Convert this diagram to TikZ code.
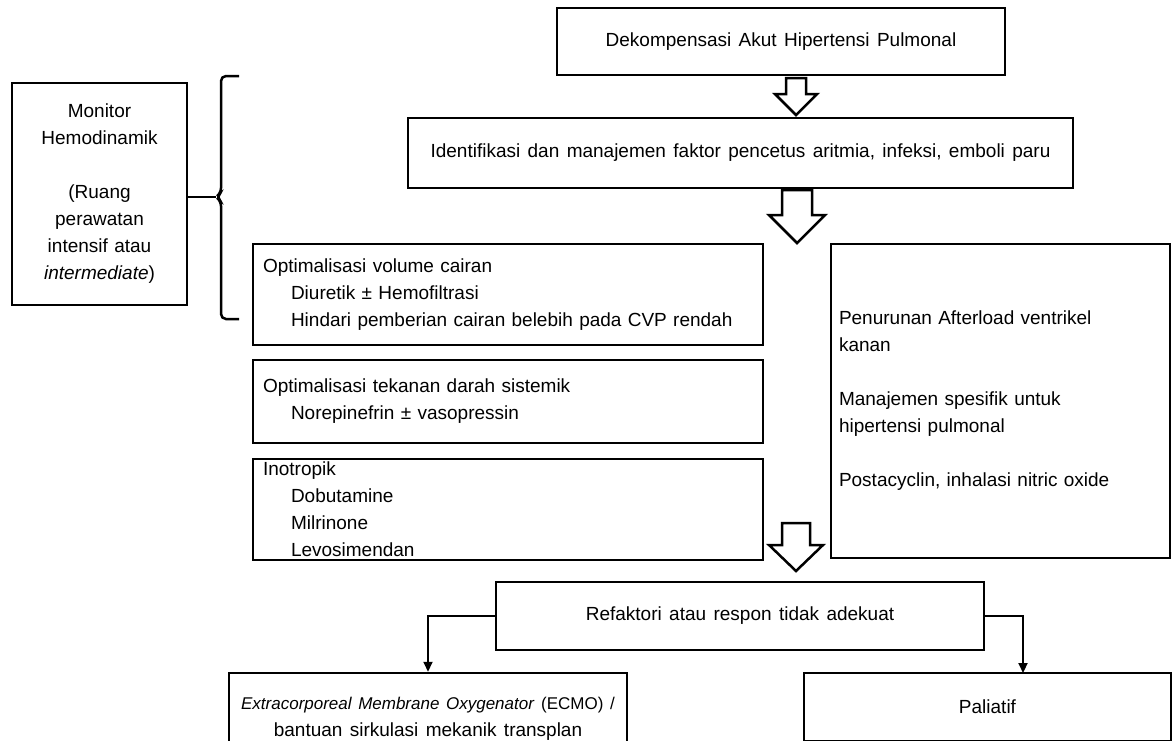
\documentclass[tikz,border=0pt]{standalone}
\usepackage{fontspec}
\setmainfont{Liberation Sans}[WordSpace=1.4]
\usetikzlibrary{arrows.meta}

\begin{document}
\begin{tikzpicture}[x=1pt,y=-1pt,
  kotak/.style={draw, line width=2.5pt, inner sep=0pt, font=\fontsize{19}{27}\selectfont},
  isi/.style={inner sep=0pt, font=\fontsize{19}{27}\selectfont},
  panah/.style={draw, line width=2.5pt, fill=white, line join=miter},
  sambung/.style={line width=2pt, -{Triangle[length=10pt,width=9pt]}},
  kurung/.style={line width=2.5pt, rounded corners=5pt}]
\useasboundingbox (0,0) rectangle (1172,740);

% alur utama
\node[kotak, minimum width=448, minimum height=67] (dekomp) at (781,41.5) {Dekompensasi Akut Hipertensi Pulmonal};
\node[kotak, minimum width=665, minimum height=70] (faktor) at (740.5,153) {Identifikasi dan manajemen faktor pencetus aritmia, infeksi, emboli paru};
\draw[panah] (786,78) -- (806,78) -- (806,94) -- (817,94) -- (796,115) -- (775,94) -- (786,94) -- cycle;
\draw[panah] (782,190) -- (812,190) -- (812,215) -- (825,215) -- (797,243) -- (769,215) -- (782,215) -- cycle;

% kotak kiri
\node[kotak, minimum height=101, text width=490, inner xsep=10, align=left] (cairan) at (508,294.5) {Optimalisasi volume cairan\\\hspace*{28pt}Diuretik ± Hemofiltrasi\\\hspace*{28pt}Hindari pemberian cairan belebih pada CVP rendah};
\node[kotak, minimum height=83, text width=490, inner xsep=10, align=left] (tekanan) at (508,401.5) {Optimalisasi tekanan darah sistemik\\\hspace*{28pt}Norepinefrin ± vasopressin};
\node[kotak, minimum width=510, minimum height=101] (ino) at (508,509.5) {};
\node[isi, text width=490, align=left] (inoteks) at (ino) {Inotropik\\\hspace*{28pt}Dobutamine\\\hspace*{28pt}Milrinone\\\hspace*{28pt}Levosimendan};

% kotak kanan
\node[kotak, minimum height=314, text width=323, inner xsep=8, align=left] (afterload) at (1000.5,401) {Penurunan Afterload ventrikel\\kanan\\[27pt]Manajemen spesifik untuk\\hipertensi pulmonal\\[27pt]Postacyclin, inhalasi nitric oxide};

% monitor dan kurung
\node[kotak, minimum height=222, text width=165, inner xsep=5, align=center] (monitor) at (99.5,194) {Monitor\\Hemodinamik\\[27pt](Ruang\\perawatan\\intensif atau\\\textit{intermediate})};
\coordinate (puncak) at (216,197);
\draw[kurung] (239,76) -- (221,76) -- (221,193) -- (puncak) -- (221,201) -- (221,319) -- (239,319);
\draw[line width=2.5pt] (monitor.east |- puncak) -- (puncak);

% bawah
\draw[panah] (782,523) -- (810,523) -- (810,545) -- (823,545) -- (796,571) -- (769,545) -- (782,545) -- cycle;
\node[kotak, minimum width=488, minimum height=68] (refak) at (740,616) {Refaktori atau respon tidak adekuat};
\node[kotak, minimum width=398, minimum height=92, align=center] (ecmo) at (428,719) {{\fontsize{17}{27}\selectfont\textit{Extracorporeal Membrane Oxygenator} (ECMO) /}\\bantuan sirkulasi mekanik transplan};
\node[kotak, minimum width=367, minimum height=68] (paliatif) at (987.5,707) {Paliatif};
\coordinate (kakikanan) at (1023,673);
\draw[sambung] (refak.west) -| (ecmo.north);
\draw[sambung] (refak.east) -| (kakikanan);
\end{tikzpicture}
\end{document}
